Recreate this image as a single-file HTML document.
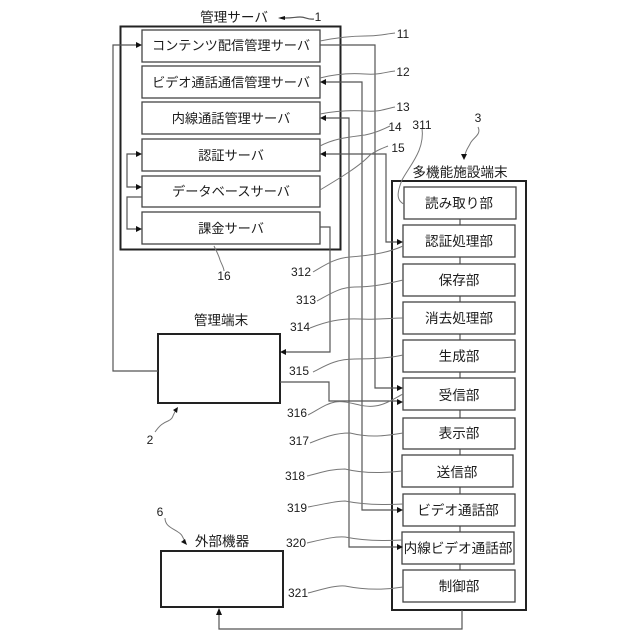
<!DOCTYPE html>
<html><head><meta charset="utf-8"><style>
html,body{margin:0;padding:0;background:#fff}
svg{display:block}
text{font-family:"Liberation Sans","Noto Sans CJK JP",sans-serif;font-size:13.2px;fill:#1c1c1c}
.c{text-anchor:middle}
.r{font-size:13.6px}
.n{font-size:12px}
.b{fill:#fff;stroke:#444;stroke-width:1.3}
.B{fill:#fff;stroke:#222;stroke-width:2}
.l{fill:none;stroke:#555;stroke-width:1.2}
.t{fill:none;stroke:#777;stroke-width:1}
.a{fill:#111}
</style></head><body>
<svg width="640" height="640" viewBox="0 0 640 640" xmlns="http://www.w3.org/2000/svg">
<rect class="B" x="120.500" y="26.500" width="220" height="223"/>
<rect class="B" x="392" y="181" width="134" height="429"/>
<rect class="B" x="158" y="334" width="122" height="69"/>
<rect class="B" x="161" y="551" width="122" height="56"/>

<rect class="b" x="142" y="30" width="178" height="32"/>
<rect class="b" x="142" y="66" width="178" height="32"/>
<rect class="b" x="142" y="102" width="178" height="32"/>
<rect class="b" x="142" y="139" width="178" height="32"/>
<rect class="b" x="142" y="176" width="178" height="31"/>
<rect class="b" x="142" y="212" width="178" height="32"/>

<path class="l" d="M460 219V225M460 257V264M460 296V302M460 334V340M460 372V378M460 410V418M460 449V455M460 487V494M460 526V532M460 564V570"/>
<rect class="b" x="404" y="187" width="112" height="32"/>
<rect class="b" x="403" y="225" width="112" height="32"/>
<rect class="b" x="403" y="264" width="112" height="32"/>
<rect class="b" x="403" y="302" width="112" height="32"/>
<rect class="b" x="403" y="340" width="112" height="32"/>
<rect class="b" x="403" y="378" width="112" height="32"/>
<rect class="b" x="403" y="418" width="112" height="31"/>
<rect class="b" x="402" y="455" width="111" height="32"/>
<rect class="b" x="403" y="494" width="112" height="32"/>
<rect class="b" x="402" y="532" width="112" height="32"/>
<rect class="b" x="403" y="570" width="112" height="32"/>

<path class="l" d="M320 45H375V388H398"/>
<path class="l" d="M325 82H362V510H398"/>
<path class="l" d="M325 118H349V547H398"/>
<path class="l" d="M325 154H386V242H398"/>
<path class="l" d="M320 227H330V352H285"/>
<path class="l" d="M158 371H113V45H137"/>
<path class="l" d="M280 382H329V401H398"/>
<path class="l" d="M137 154H127V187H137"/>
<path class="l" d="M142 197H127V229H137"/>
<path class="l" d="M462 610V629H219V613"/>

<path class="a" d="M142 45l-6-3v6zM142 154l-6-3v6zM142 187l-6-3v6zM142 229l-6-3v6zM320 82l6-3v6zM320 118l6-3v6zM320 154l6-3v6zM403 242l-6-3v6zM403 388l-6-3v6zM403 402l-6-3v6zM403 510l-6-3v6zM403 547l-6-3v6zM280 352l6-3v6zM219 608l-3 7h6z"/>

<path class="t" d="M320 41C335 38 350 36 365 36C380 36 385 34 395 33"/>
<path class="t" d="M320 78C335 74 350 73 365 74C380 75 385 72 395 71"/>
<path class="t" d="M320 114C335 111 350 110 365 111C380 112 385 109 395 107"/>
<path class="t" d="M320 146C335 138 350 137 365 135C375 133 382 130 390 126"/>
<path class="t" d="M320 190C340 178 360 166 370 155C377 150 383 148 388 146"/>
<path class="t" d="M404 204C395 200 398 190 402 180C410 165 425 150 422 128"/>
<path class="t" d="M313 272C325 265 335 258 350 257C375 255 390 252 403 246"/>
<path class="t" d="M317 301C330 294 340 287 355 287C375 287 390 283 403 280"/>
<path class="t" d="M310 328C325 322 340 318 360 319C375 320 390 318 403 318"/>
<path class="t" d="M313 372C325 366 335 359 355 359C375 359 390 358 403 355"/>
<path class="t" d="M308 415C318 410 325 404 335 402C350 400 360 408 375 406C385 405 395 398 403 394"/>
<path class="t" d="M310 443C325 437 335 433 350 433C370 438 385 436 403 433"/>
<path class="t" d="M307 476C320 473 330 469 345 469C365 474 385 473 402 471"/>
<path class="t" d="M308 507C320 505 335 501 345 501C365 505 385 505 403 504"/>
<path class="t" d="M307 543C320 540 335 536 345 537C365 541 385 541 402 540"/>
<path class="t" d="M308 593C320 590 335 585 345 586C365 590 385 590 403 587"/>
<path class="t" d="M214 246C217 252 219 256 220 260C222 265 224 268 224 271"/>
<path class="l" d="M314 19C308 20 306 17 300 17C295 17 293 18 285 18"/>
<path class="a" d="M278 18l7-2v4z"/>
<path class="t" d="M155 432C160 425 163 423 168 421C174 418 172 416 176 410"/>
<path class="a" d="M178 407l-5 3 4 3z"/>
<path class="t" d="M478 127C482 135 472 138 470 144C468 148 466 150 465 155"/>
<path class="a" d="M464 160l-3-6 6 0z"/>
<path class="t" d="M165 518C165 526 172 528 178 532C183 535 182 537 185 541"/>
<path class="a" d="M187 545l-6-3 4-3z"/>

<text class="c r" x="234" y="22">管理サーバ</text>
<text class="c" x="231" y="50">コンテンツ配信管理サーバ</text>
<text class="c" x="231" y="87">ビデオ通話通信管理サーバ</text>
<text class="c" x="231" y="123">内線通話管理サーバ</text>
<text class="c" x="231" y="160">認証サーバ</text>
<text class="c" x="231" y="196">データベースサーバ</text>
<text class="c" x="231" y="233">課金サーバ</text>
<text class="c r" x="221" y="325">管理端末</text>
<text class="c r" x="222" y="546">外部機器</text>
<text class="c r" x="460" y="177">多機能施設端末</text>
<text class="c r" x="459" y="208">読み取り部</text>
<text class="c r" x="459" y="246">認証処理部</text>
<text class="c r" x="459" y="285">保存部</text>
<text class="c r" x="459" y="323">消去処理部</text>
<text class="c r" x="459" y="361">生成部</text>
<text class="c r" x="459" y="400">受信部</text>
<text class="c r" x="459" y="438">表示部</text>
<text class="c r" x="457" y="477">送信部</text>
<text class="c r" x="458" y="515">ビデオ通話部</text>
<text class="c r" x="458" y="553">内線ビデオ通話部</text>
<text class="c r" x="459" y="591">制御部</text>

<text class="n c" x="318" y="21">1</text>
<text class="n c" x="403" y="38">11</text>
<text class="n c" x="403" y="76">12</text>
<text class="n c" x="403" y="111">13</text>
<text class="n c" x="395" y="131">14</text>
<text class="n c" x="398" y="152">15</text>
<text class="n c" x="422" y="129">311</text>
<text class="n c" x="478" y="122">3</text>
<text class="n c" x="224" y="280">16</text>
<text class="n c" x="150" y="444">2</text>
<text class="n c" x="160" y="516">6</text>
<text class="n c" x="301" y="276">312</text>
<text class="n c" x="306" y="304">313</text>
<text class="n c" x="300" y="331">314</text>
<text class="n c" x="299" y="375">315</text>
<text class="n c" x="297" y="417">316</text>
<text class="n c" x="299" y="445">317</text>
<text class="n c" x="295" y="480">318</text>
<text class="n c" x="297" y="512">319</text>
<text class="n c" x="296" y="547">320</text>
<text class="n c" x="298" y="597">321</text>
</svg>
</body></html>
